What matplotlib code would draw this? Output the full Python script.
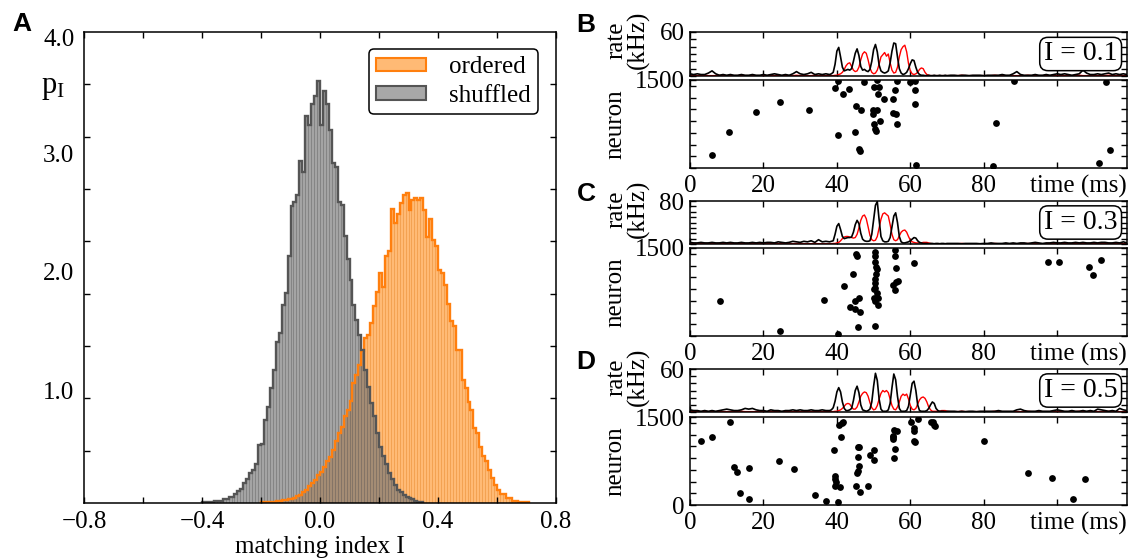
import numpy as np
import matplotlib
matplotlib.use('Agg')
import matplotlib.pyplot as plt
from matplotlib.patches import Patch
from matplotlib.ticker import MultipleLocator, FixedLocator

plt.rcParams['font.family'] = ['Liberation Serif', 'DejaVu Serif']
plt.rcParams['mathtext.fontset'] = 'custom'
plt.rcParams['mathtext.rm'] = 'Liberation Serif'
plt.rcParams['mathtext.it'] = 'Liberation Serif:italic'
plt.rcParams['axes.linewidth'] = 1.1

# ---- panel A: histograms of matching index (bin width 0.01)
bin_w = 0.01
shuf_start = -0.40
shuf_vals = [0.01, 0.01, 0.01, 0.01, 0.02, 0.02, 0.02, 0.03, 0.03, 0.05,
             0.05, 0.08, 0.10, 0.12, 0.17, 0.20, 0.25, 0.28, 0.33, 0.49,
             0.50, 0.70, 0.81, 0.97, 1.12, 1.36, 1.43, 1.67, 1.77, 2.08,
             2.50, 2.54, 2.60, 2.88, 2.79, 3.26, 3.19, 3.36, 3.43, 3.56,
             3.19, 3.47, 3.36, 3.14, 2.87, 2.83, 2.54, 2.51, 2.25, 2.06,
             1.88, 1.67, 1.54, 1.42, 1.29, 1.12, 0.98, 0.84, 0.73, 0.59,
             0.47, 0.40, 0.33, 0.25, 0.20, 0.15, 0.11, 0.09, 0.07, 0.05,
             0.04, 0.03, 0.02, 0.01, 0.01]
ord_start = -0.20
ord_vals = [0.005, 0.005, 0.01, 0.01, 0.01, 0.015, 0.02, 0.025, 0.025, 0.03,
            0.035, 0.04, 0.055, 0.07, 0.095, 0.11, 0.14, 0.17, 0.19, 0.235,
            0.26, 0.30, 0.35, 0.39, 0.45, 0.52, 0.59, 0.64, 0.73, 0.78,
            0.86, 1.01, 1.08, 1.16, 1.28, 1.39, 1.42, 1.52, 1.66, 1.78,
            1.94, 1.82, 2.08, 2.12, 2.48, 2.36, 2.44, 2.53, 2.60, 2.61,
            2.47, 2.55, 2.57, 2.55, 2.57, 2.47, 2.24, 2.39, 2.22, 2.17,
            1.96, 1.94, 1.84, 1.68, 1.53, 1.49, 1.29, 1.29, 1.04, 0.97,
            0.85, 0.78, 0.63, 0.59, 0.47, 0.40, 0.35, 0.28, 0.21, 0.15,
            0.11, 0.08, 0.08, 0.04, 0.04, 0.02, 0.02, 0.01, 0.01, 0.005,
            0.005]

# ---- panels B-D: population rates (kHz)
t_pre = np.arange(0, 38)
t_burst = np.arange(38, 70.01, 0.5)
t_post = np.arange(71, 120)
t_rate = np.concatenate([t_pre, t_burst, t_post])

red_pre = [0.5, 1, 0.5, 0.5, 1, 0.5, 0.5, 0.5, 1, 0.5,
           0.5, 0.5, 0.5, 0.5, 1, 0.5, 0.5, 0.5, 0.5, 0.5,
           0.5, 0.5, 1, 0.5, 0.5, 0.5, 0.5, 0.5, 0.5, 1,
           0.5, 0.5, 0.5, 0.5, 1, 0.5, 0.5, 0.5]
red_post = [0.5, 0.5, 0.5, 1, 0.5, 0.5, 0.5, 0.5, 0.5, 0.5,
            0.5, 0.5, 1, 0.5, 0.5, 0.5, 0.5, 0.5, 0.5, 0.5,
            0.5, 1, 0.5, 0.5, 0.5, 0.5, 0.5, 0.5, 1, 0.5,
            0.5, 0.5, 0.5, 0.5, 0.5, 1, 0.5, 0.5, 0.5, 0.5,
            0.5, 0.5, 0.5, 1, 0.5, 0.5, 0.5, 0.5, 0.5]

black_B = ([3, 2, 3, 2, 2, 4, 7, 3, 1, 2, 1, 2, 1, 1, 2, 1, 1, 2, 1, 1,
            2, 1, 2, 3, 2, 1, 2, 1, 3, 6, 3, 2, 3, 5, 2, 3, 2, 3]
           + [2, 3, 5, 16, 34, 39, 26, 12, 7, 8,
              9, 8, 10, 20, 31, 37, 28, 13, 8, 9,
              7, 6, 9, 20, 36, 43, 33, 15, 7, 5,
              4, 5, 7, 18, 34, 45, 44, 26, 10, 4,
              2, 3, 5, 10, 17, 22, 21, 12, 5, 2,
              1, 1, 0.5, 0.5, 1, 0.5, 0.5, 1, 0.5, 0.5, 1, 0.5, 0.5, 1, 0.5]
           + [1, 1, 0.5, 1, 1, 0.5, 1, 1, 1, 0.5, 1, 1, 1, 1, 2, 1, 1, 3, 6, 2,
              1, 1, 1, 2, 1, 1, 2, 1, 2, 3, 2, 3, 2, 1, 2, 3, 8, 4, 2, 2,
              3, 2, 3, 4, 2, 3, 2, 3, 2])
red_B = (red_pre
         + [0.5, 0.5, 0.5, 1, 1, 2, 3, 5, 9, 14,
            17, 18, 13, 8, 6, 7, 12, 22, 30, 33,
            31, 22, 11, 5, 3, 4, 8, 16, 26, 29,
            32, 27, 30, 18, 8, 4, 5, 12, 26, 36,
            40, 42, 33, 17, 7, 3, 2, 3, 5, 9,
            11, 10, 5, 2, 1, 0.5, 0.5, 0.5, 0.5, 0.5, 0.5, 0.5, 0.5, 0.5, 0.5]
         + red_post)

black_C = ([3, 2, 2, 3, 2, 2, 3, 2, 2, 3, 2, 3, 2, 2, 3, 2, 2, 3, 2, 3,
            2, 3, 3, 2, 4, 3, 2, 3, 5, 4, 3, 5, 4, 6, 3, 8, 4, 5]
           + [4, 5, 6, 18, 33, 38, 27, 14, 10, 11,
              12, 12, 13, 22, 36, 44, 38, 20, 9, 6,
              5, 5, 6, 18, 45, 72, 79, 45, 14, 6,
              4, 4, 5, 12, 32, 52, 58, 40, 14, 4,
              2, 2, 3, 4, 6, 9, 12, 11, 6, 3,
              2, 1, 1, 1, 0.5, 1, 1, 0.5, 1, 1, 0.5, 1, 1, 0.5, 1]
           + [1, 1, 1, 0.5, 1, 1, 1, 1, 0.5, 1, 1, 2, 1, 1, 1, 2, 1, 2, 1, 2,
              2, 1, 2, 3, 2, 1, 2, 2, 3, 2, 2, 3, 2, 2, 3, 2, 3, 2, 2, 3,
              2, 3, 3, 2, 2, 3, 2, 4, 2])
red_C = (red_pre
         + [0.5, 0.5, 1, 1, 2, 3, 6, 10, 13, 14,
            14, 13, 12, 11, 12, 18, 30, 44, 52, 54,
            47, 32, 16, 8, 6, 7, 14, 30, 46, 56,
            58, 55, 52, 36, 18, 8, 6, 8, 15, 22,
            25, 26, 22, 14, 7, 4, 3, 2, 2, 2,
            2, 3, 3, 3, 2, 1, 0.5, 0.5, 0.5, 0.5, 0.5, 0.5, 0.5, 0.5, 0.5]
         + red_post)

black_D = ([3, 2, 2, 1, 2, 1, 2, 1, 2, 3, 4, 3, 2, 2, 3, 5, 4, 5, 3, 2,
            2, 1, 3, 2, 2, 1, 2, 2, 3, 2, 3, 2, 2, 3, 2, 2, 3, 2]
           + [2, 3, 6, 15, 28, 34, 28, 14, 5, 2,
              2, 3, 5, 16, 30, 36, 27, 10, 3, 2,
              1, 2, 4, 14, 36, 54, 44, 18, 4, 1,
              1, 1, 3, 12, 34, 53, 45, 22, 5, 1,
              1, 1, 2, 8, 24, 40, 43, 30, 10, 2,
              1, 1, 1, 2, 5, 10, 14, 12, 5, 2, 1, 1, 1, 0.5, 1]
           + [1, 1, 0.5, 1, 0.5, 1, 1, 0.5, 1, 1, 1, 1, 1, 2, 1, 1, 1, 1, 3, 4,
              2, 1, 1, 1, 2, 1, 1, 1, 2, 3, 2, 1, 1, 2, 1, 1, 2, 1, 2, 1,
              4, 3, 2, 1, 2, 1, 5, 3, 2])
red_D = (red_pre
         + [0.5, 0.5, 0.5, 1, 1, 2, 3, 5, 8, 11,
            12, 11, 7, 4, 4, 7, 14, 22, 26, 28,
            27, 22, 13, 6, 3, 4, 9, 18, 26, 30,
            28, 30, 27, 18, 9, 4, 3, 7, 14, 22,
            25, 23, 25, 18, 9, 4, 3, 5, 11, 17,
            20, 21, 19, 14, 7, 3, 1, 1, 1, 1, 1, 2, 2, 2, 1]
         + red_post)

# ---- spike rasters (time ms, neuron index)
spk_B_t = [6.1, 10.5, 18.0, 24.4, 32.4, 39.6, 40.3, 40.3, 41.6, 43.4, 44.9, 45.2,
           46.0, 46.2, 46.6, 47.3, 49.7, 49.9, 50.1, 50.1, 50.3, 50.6, 50.8, 51.0,
           51.2, 51.5, 51.8, 52.7, 55.4, 55.4, 55.7, 56.1, 56.4, 56.4, 59.8, 61.3,
           61.4, 61.3, 61.6, 82.5, 83.2, 88.1, 113.2, 111.5, 114.4]
spk_B_n = [230, 622, 958, 1133, 990, 1369, 1490, 554, 1257, 1344, 610, 1058,
           324, 292, 990, 1463, 921, 983, 1388, 747, 672, 629, 1495, 983,
           1257, 1388, 797, 1170, 1176, 940, 1326, 927, 1480, 753, 1463, 1488,
           1338, 1095, 50, 37, 759, 1481, 1463, 87, 311]
spk_C_t = [8.3, 24.4, 36.4, 40.3, 42.0, 44.4, 43.7, 44.9, 45.2, 45.4, 45.0, 46.0,
           46.3, 45.7, 50.5, 50.5, 50.5, 50.7, 50.8, 50.7, 50.5, 50.3, 50.5, 50.0,
           51.0, 50.2, 51.2, 50.5, 51.2, 50.5, 55.9, 55.9, 56.1, 55.4, 56.1, 56.7,
           55.7, 61.0, 97.4, 100.6, 108.6, 109.8, 112.0]
spk_C_n = [603, 92, 621, 34, 850, 1052, 494, 592, 1397, 1368, 460, 650,
           402, 149, 1425, 1356, 1264, 1184, 1138, 1052, 977, 897, 822, 793,
           736, 650, 650, 592, 534, 178, 1471, 1356, 1167, 862, 920, 937,
           776, 1236, 1253, 1264, 1184, 1046, 1287]
spk_D_t = [2.9, 6.0, 11.0, 12.1, 12.9, 13.5, 16.2, 16.2, 24.2, 28.3, 34.0, 37.0,
           39.3, 39.6, 39.6, 39.6, 39.8, 40.3, 40.5, 40.8, 41.3, 41.6, 41.1, 45.2,
           45.5, 45.7, 45.9, 45.8, 46.0, 45.7, 46.2, 48.4, 49.1, 50.0, 50.0, 55.4,
           55.4, 55.4, 55.6, 56.3, 55.9, 55.6, 60.3, 61.0, 61.1, 61.0, 61.3, 62.2,
           65.5, 66.1, 66.4, 66.6, 80.1, 92.0, 98.6, 104.2, 107.6]
spk_D_n = [1095, 1158, 1409, 644, 570, 211, 627, 97, 753, 622, 171, 68,
           930, 496, 439, 325, 399, 57, 1369, 302, 1397, 1414, 1158, 331,
           553, 987, 987, 815, 667, 582, 222, 331, 855, 930, 770, 1181,
           1152, 1124, 1283, 1255, 952, 798, 1409, 1312, 1255, 1095, 1067, 1466,
           1409, 1414, 1369, 1352, 1084, 542, 456, 97, 445]

W, H = 1131, 558
fig = plt.figure(figsize=(W / 100, H / 100), dpi=100)


def box(x0, y0, x1, y1):
    return [x0 / W, 1 - y1 / H, (x1 - x0) / W, (y1 - y0) / H]


def px(x, y):
    return x / W, 1 - y / H


FS = 18

# ---------------- panel A
axA = fig.add_axes(box(84, 32, 556, 503))
e_ord = ord_start + bin_w * np.arange(len(ord_vals) + 1)
e_shuf = shuf_start + bin_w * np.arange(len(shuf_vals) + 1)
axA.bar(e_ord[:-1], ord_vals, width=bin_w, align='edge', color='#ff8c1a',
        alpha=0.6, edgecolor='#e8882a', linewidth=0.4)
axA.bar(e_shuf[:-1], shuf_vals, width=bin_w, align='edge', color='#747474',
        alpha=0.65, edgecolor='#666666', linewidth=0.4)
axA.stairs(ord_vals, e_ord, color='#ff7f0e', lw=1.7)
axA.stairs(shuf_vals, e_shuf, color='#555555', lw=1.7)
ytop = 3.97
axA.set_xlim(-0.8, 0.8)
axA.set_ylim(0, ytop)
axA.xaxis.set_major_locator(FixedLocator([-0.8, -0.4, 0.0, 0.4, 0.8]))
axA.xaxis.set_minor_locator(FixedLocator([-0.6, -0.2, 0.2, 0.6]))
axA.set_xticklabels(['\u22120.8', '\u22120.4', '0.0', '0.4', '0.8'])
axA.set_yticks([0.95, 1.95, 2.95, 3.92])
axA.set_yticklabels(['1.0', '2.0', '3.0', '4.0'])
axA.yaxis.set_minor_locator(FixedLocator([ytop * k / 9 for k in range(1, 9)]))
axA.tick_params(which='both', direction='in', top=True, right=True,
                length=4, width=1.0, labelsize=FS, pad=6)
axA.tick_params(axis='y', which='major', length=0, pad=7)
axA.set_xlabel('matching index I', fontsize=FS, labelpad=2)
fig.text(*px(53, 88), r'$\mathrm{p}_{\mathrm{I}}$', fontsize=FS + 4,
         ha='center', va='center')
handles = [Patch(facecolor='#ffba75', edgecolor='#ff7f0e', lw=1.5, label='ordered'),
           Patch(facecolor='#a8a8a8', edgecolor='#555555', lw=1.5, label='shuffled')]
leg = axA.legend(handles=handles, loc='upper right', fontsize=FS,
                 bbox_to_anchor=(0.962, 0.964), borderaxespad=0,
                 handlelength=2.0, handleheight=0.45, handletextpad=0.9,
                 borderpad=0.3, labelspacing=0.25, fancybox=True, framealpha=1)
leg.get_frame().set_edgecolor('black')
leg.get_frame().set_linewidth(1.1)
fig.text(*px(22, 24), 'A', fontsize=19, fontweight='bold',
         family='Liberation Sans', ha='center', va='center')

# ---------------- panels B-D
panels = [
    ('B', 32, 76, 80, 168, black_B, red_B, 60, spk_B_t, spk_B_n, 'I = 0.1', False),
    ('C', 201, 244, 248, 336, black_C, red_C, 80, spk_C_t, spk_C_n, 'I = 0.3', False),
    ('D', 369, 412, 417, 505, black_D, red_D, 60, spk_D_t, spk_D_n, 'I = 0.5', True),
]
x0, x1 = 690, 1127
for (lab, rt, rb, st, sb, blk, red, rmax, sp_t, sp_n, itxt, zero) in panels:
    axr = fig.add_axes(box(x0, rt, x1, rb))
    axr.plot(t_rate, red, color='red', lw=1.0)
    axr.plot(t_rate, blk, color='black', lw=1.2)
    axr.set_xlim(0, 119)
    axr.set_ylim(0, rmax)
    axr.set_xticks(np.arange(0, 101, 20))
    axr.set_xticklabels([])
    axr.set_yticks([rmax])
    axr.yaxis.set_minor_locator(MultipleLocator(10))
    axr.tick_params(which='both', direction='in', top=True, right=True,
                    length=4, width=1.0, labelsize=FS, pad=4)
    axr.text(0.978, 0.5, itxt, transform=axr.transAxes, ha='right',
             va='center', fontsize=FS + 2,
             bbox=dict(boxstyle='round,pad=0.15,rounding_size=0.3',
                       fc='white', ec='black', lw=1.1))

    axs = fig.add_axes(box(x0, st, x1, sb))
    axs.scatter(sp_t, sp_n, s=24, color='black', linewidths=0)
    axs.set_xlim(0, 119)
    axs.set_ylim(0, 1500)
    axs.set_xticks(np.arange(0, 101, 20))
    axs.set_xticklabels(['0', '20', '40', '60', '80', ''])
    axs.set_yticks([0, 1500])
    axs.set_yticklabels(['0' if zero else '', '1500'])
    axs.yaxis.set_minor_locator(FixedLocator(np.arange(200, 1401, 200)))
    axs.tick_params(which='both', direction='in', top=True, right=True,
                    length=4, width=1.0, labelsize=FS, pad=4)
    axs.tick_params(axis='x', pad=5)
    axs.annotate('time (ms)', xy=(1, 0), xycoords='axes fraction',
                 xytext=(0, -5), textcoords='offset points', ha='right',
                 va='top', fontsize=FS)

    # axis labels placed by hand, as in the original layout
    fig.text(*px(628, rt + 8), 'rate\n(kHz)', fontsize=FS, rotation=90,
             ha='center', va='center', linespacing=0.95)
    fig.text(*px(615, (st + sb) / 2), 'neuron', fontsize=FS, rotation=90,
             ha='center', va='center')
    fig.text(*px(586, rt - 7), lab, fontsize=19, fontweight='bold',
             family='Liberation Sans', ha='center', va='center')

fig.savefig('out.png', dpi=100)
